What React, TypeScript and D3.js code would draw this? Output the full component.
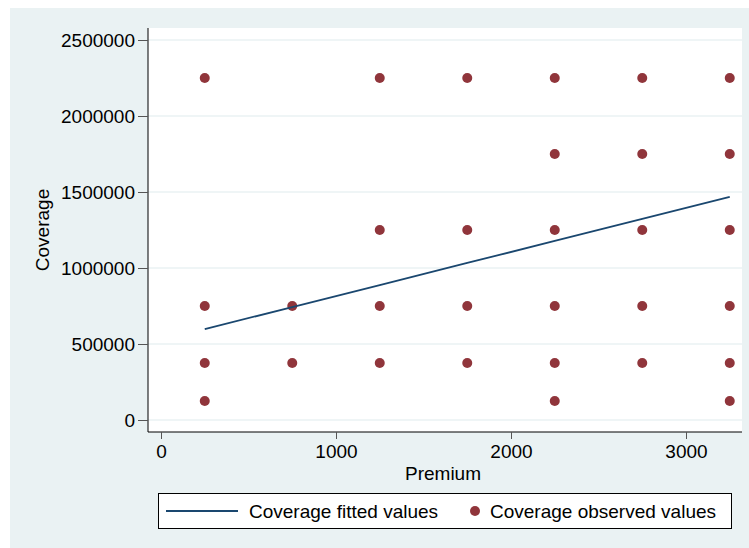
import React, { useEffect, useRef } from 'react';
import * as d3 from 'd3';

// premium levels and the observed coverage values at each level
const premiums = [250, 750, 1250, 1750, 2250, 2750, 3250];
const observed: number[][] = [
  [125000, 375000, 750000, 2250000],
  [375000, 750000],
  [375000, 750000, 1250000, 2250000],
  [375000, 750000, 1250000, 2250000],
  [125000, 375000, 750000, 1250000, 1750000, 2250000],
  [375000, 750000, 1250000, 1750000, 2250000],
  [125000, 375000, 750000, 1250000, 1750000, 2250000],
];
const fitted = [598000, 743000, 888000, 1033000, 1178000, 1323000, 1468000];

const yTicks = [0, 500000, 1000000, 1500000, 2000000, 2500000];
const xTicks = [0, 1000, 2000, 3000];

const lineColor = '#1a476f';
const dotColor = '#90353b';
const bgColor = '#eaf2f3';
const font = '"Liberation Sans", Arial, sans-serif';

function App() {
  const ref = useRef<SVGSVGElement>(null);

  useEffect(() => {
    const svg = d3.select(ref.current);
    svg.selectAll('*').remove();

    const W = 749, H = 548;
    const plot = { left: 148, top: 28, right: 742, bottom: 432 };

    svg.append('rect').attr('x', 10).attr('y', 8).attr('width', W - 10).attr('height', H - 8).attr('fill', bgColor);
    svg.append('rect')
      .attr('x', plot.left).attr('y', plot.top)
      .attr('width', plot.right - plot.left).attr('height', plot.bottom - plot.top)
      .attr('fill', '#fff');

    const x = d3.scaleLinear().domain([0, 3000]).range([161, 686]);
    const y = d3.scaleLinear().domain([0, 2500000]).range([420, 40]);

    // gridlines
    svg.append('g').selectAll('line').data(yTicks).enter().append('line')
      .attr('x1', plot.left).attr('x2', plot.right)
      .attr('y1', d => y(d)).attr('y2', d => y(d))
      .attr('stroke', bgColor).attr('stroke-width', 1.5);

    // y axis
    const yAxis = svg.append('g')
      .attr('transform', `translate(${plot.left},0)`)
      .call(d3.axisLeft(y).tickValues(yTicks).tickSize(10).tickPadding(3).tickFormat(d3.format('d')).tickSizeOuter(0));
    yAxis.select('.domain').attr('d', `M0,${plot.top}V${plot.bottom}`).attr('stroke', '#000');
    yAxis.selectAll('.tick line').attr('stroke', '#555');
    yAxis.selectAll('.tick text').attr('font-size', 19).attr('font-family', font).attr('fill', '#000');

    // x axis
    const xAxis = svg.append('g')
      .attr('transform', `translate(0,${plot.bottom})`)
      .call(d3.axisBottom(x).tickValues(xTicks).tickSize(7).tickPadding(6).tickFormat(d3.format('d')).tickSizeOuter(0));
    xAxis.select('.domain').attr('d', `M${plot.left},0H${plot.right}`).attr('stroke', '#000');
    xAxis.selectAll('.tick line').attr('stroke', '#555');
    xAxis.selectAll('.tick text').attr('font-size', 19).attr('font-family', font).attr('fill', '#000');

    // axis titles
    svg.append('text')
      .attr('x', 443).attr('y', 480)
      .attr('text-anchor', 'middle')
      .attr('font-size', 19).attr('font-family', font)
      .text('Premium');
    svg.append('text')
      .attr('transform', 'translate(49,230) rotate(-90)')
      .attr('text-anchor', 'middle')
      .attr('font-size', 19).attr('font-family', font)
      .text('Coverage');

    // observed points
    const pts = premiums.flatMap((p, i) => observed[i].map(v => ({ p, v })));
    svg.append('g').selectAll('circle').data(pts).enter().append('circle')
      .attr('cx', d => x(d.p)).attr('cy', d => y(d.v))
      .attr('r', 5).attr('fill', dotColor);

    // fitted line
    const line = d3.line<number>()
      .x((_, i) => x(premiums[i]))
      .y(d => y(d));
    svg.append('path')
      .datum(fitted)
      .attr('fill', 'none').attr('stroke', lineColor).attr('stroke-width', 1.8)
      .attr('d', line);

    // legend
    const lg = svg.append('g');
    lg.append('rect').attr('x', 158.5).attr('y', 493.5).attr('width', 573).attr('height', 35)
      .attr('fill', '#fff').attr('stroke', '#000').attr('stroke-width', 1);
    lg.append('line').attr('x1', 166).attr('x2', 238).attr('y1', 511).attr('y2', 511)
      .attr('stroke', lineColor).attr('stroke-width', 1.8);
    lg.append('text').attr('x', 249).attr('y', 518).attr('font-size', 19).attr('font-family', font)
      .text('Coverage fitted values');
    lg.append('circle').attr('cx', 475).attr('cy', 511).attr('r', 5).attr('fill', dotColor);
    lg.append('text').attr('x', 490).attr('y', 518).attr('font-size', 19).attr('font-family', font)
      .text('Coverage observed values');
  }, []);

  return (
    <svg ref={ref} width={749} height={548}
      style={{ position: 'absolute', left: 0, top: 0, background: '#fff' }} />
  );
}

export default App;
